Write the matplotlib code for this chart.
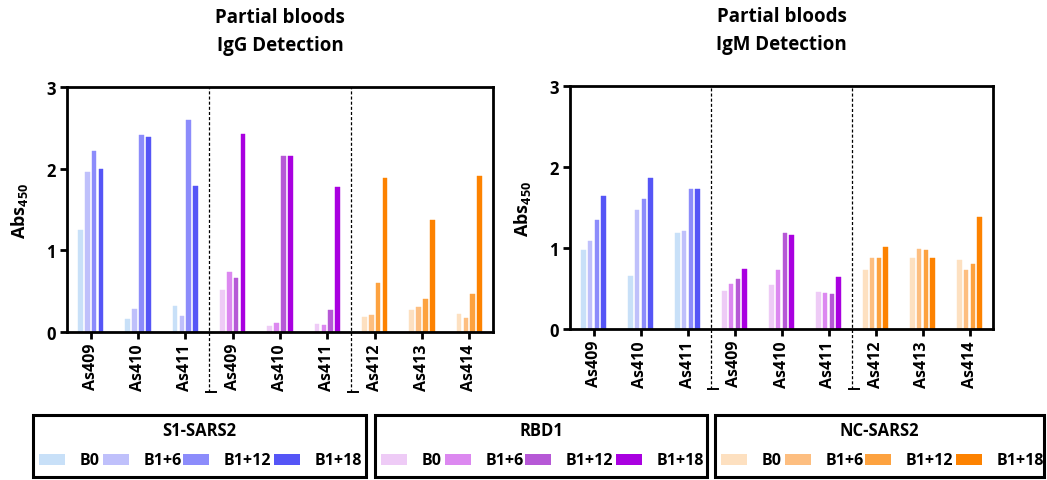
import matplotlib
matplotlib.use("Agg")
import matplotlib.pyplot as plt
from matplotlib.patches import Rectangle
from matplotlib.lines import Line2D
import numpy as np

plt.rcParams['font.family'] = ['Open Sans', 'DejaVu Sans']
plt.rcParams['font.weight'] = 'bold'
plt.rcParams['mathtext.fontset'] = 'custom'
plt.rcParams['mathtext.rm'] = 'Open Sans:bold'
plt.rcParams['mathtext.it'] = 'Open Sans:bold'
plt.rcParams['mathtext.bf'] = 'Open Sans:bold'
plt.rcParams['lines.scale_dashes'] = False

# ---- data -------------------------------------------------------------
samples = ["As409", "As410", "As411", "As409", "As410", "As411",
           "As412", "As413", "As414"]
antigens = ["S1-SARS2", "RBD1", "NC-SARS2"]
timepoints = ["B0", "B1+6", "B1+12", "B1+18"]
sample_antigen = [0, 0, 0, 1, 1, 1, 2, 2, 2]

igg_b0 = [1.25, 0.16, 0.32, 0.51, 0.07, 0.10, 0.18, 0.27, 0.22]
igg_b1_6 = [1.96, 0.28, 0.20, 0.74, 0.11, 0.08, 0.21, 0.31, 0.17]
igg_b1_12 = [2.22, 2.41, 2.59, 0.66, 2.15, 0.27, 0.60, 0.41, 0.46]
igg_b1_18 = [2.00, 2.39, 1.79, 2.43, 2.16, 1.78, 1.88, 1.37, 1.91]

igm_b0 = [0.98, 0.66, 1.19, 0.47, 0.54, 0.46, 0.73, 0.88, 0.85]
igm_b1_6 = [1.09, 1.47, 1.21, 0.56, 0.73, 0.45, 0.88, 0.99, 0.73]
igm_b1_12 = [1.34, 1.61, 1.73, 0.62, 1.18, 0.43, 0.88, 0.97, 0.80]
igm_b1_18 = [1.64, 1.87, 1.73, 0.74, 1.16, 0.64, 1.01, 0.88, 1.38]

palettes = [
    ["#c8e0f8", "#bfc0fb", "#8c8cfb", "#5555f6"],   # S1-SARS2
    ["#eecbf6", "#dc88f0", "#b658d6", "#a900e0"],   # RBD1
    ["#fde0c0", "#fdbe80", "#fda23f", "#fd8200"],   # NC-SARS2
]

W, H = 1047, 481
fig = plt.figure(figsize=(W / 100, H / 100), dpi=100)


def fx(px):
    return px / W


def fy(py):
    return 1 - py / H


def draw_panel(rect, series, title):
    left, top, right, bottom = rect
    ax = fig.add_axes([fx(left), fy(bottom), (right - left) / W, (bottom - top) / H])
    x = np.arange(len(samples))
    step = 0.145
    width = 0.10
    for k, vals in enumerate(series):
        cols = [palettes[a][k] for a in sample_antigen]
        ax.bar(x + (k - 1.5) * step, vals, width=width, color=cols,
               edgecolor=cols, linewidth=0.3, zorder=2)
    ax.set_xlim(-0.5, len(samples) - 0.5)
    ax.set_ylim(0, 3)
    ax.set_yticks([0, 1, 2, 3])
    ax.set_xticks(x)
    ax.set_xticklabels(samples, rotation=90, fontsize=11.5, fontweight='bold')
    ax.tick_params(axis='y', labelsize=12, width=2, length=5, pad=3)
    ax.tick_params(axis='x', width=2, length=5, pad=3)
    for s in ax.spines.values():
        s.set_linewidth(2.0)
    ax.set_ylabel("Abs$_{450}$", fontsize=13, fontweight='bold')
    ax.yaxis.set_label_coords(-0.087, 0.5)
    # separators between antigen blocks, running down past the axis
    depth = -(60 / (bottom - top))
    for xs in (2.5, 5.5):
        ax.add_line(Line2D([xs, xs], [depth, 1], transform=ax.get_xaxis_transform(),
                           color='black', lw=0.9, dashes=(2.2, 1.5), clip_on=False))
        ax.add_line(Line2D([xs - 0.06, xs + 0.14], [depth, depth],
                           transform=ax.get_xaxis_transform(),
                           color='black', lw=1.4, clip_on=False))
    cx = (left + right) / 2
    fig.text(fx(cx), fy(top - 70), "Partial bloods", ha='center', va='center',
             fontsize=13.5, fontweight='bold')
    fig.text(fx(cx), fy(top - 42), title, ha='center', va='center',
             fontsize=13.5, fontweight='bold')
    return ax


draw_panel((67, 88, 493, 333), [igg_b0, igg_b1_6, igg_b1_12, igg_b1_18], "IgG Detection")
draw_panel((570, 87, 993, 330), [igm_b0, igm_b1_6, igm_b1_12, igm_b1_18], "IgM Detection")

# ---- legend boxes, one per antigen ------------------------------------
boxes = [(33, 366), (375, 707), (715, 1044)]
box_top, box_bot = 416, 478
patch_off = [6, 70, 150, 241]
label_off = [47, 111, 191, 282]
for a, (bl, br) in enumerate(boxes):
    fig.add_artist(Rectangle((fx(bl), fy(box_bot)), (br - bl) / W, (box_bot - box_top) / H,
                             transform=fig.transFigure, fill=False, edgecolor='black',
                             linewidth=2.2))
    fig.text(fx((bl + br) / 2), fy(431), antigens[a], ha='center', va='center',
             fontsize=12, fontweight='bold')
    for k, tp in enumerate(timepoints):
        fig.add_artist(Rectangle((fx(bl + patch_off[k]), fy(466)), 26 / W, 11 / H,
                                 transform=fig.transFigure, color=palettes[a][k], lw=0))
        fig.text(fx(bl + label_off[k]), fy(461), tp, ha='left', va='center',
                 fontsize=11.5, fontweight='bold')

fig.savefig("out.png", dpi=100)
